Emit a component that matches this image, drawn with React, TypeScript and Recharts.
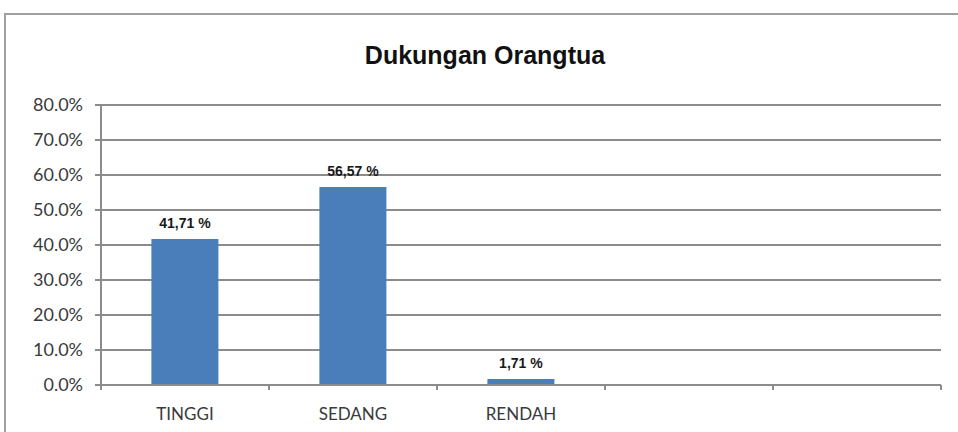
import { BarChart, Bar, XAxis, YAxis, CartesianGrid, LabelList } from "recharts";

const categories = ["TINGGI", "SEDANG", "RENDAH", "", ""];
const percentages: (number | null)[] = [41.71, 56.57, 1.71, null, null];
const yTicks = [0, 10, 20, 30, 40, 50, 60, 70, 80];

const data = categories.map((name, i) => ({ name, value: percentages[i] }));

const CHART_W = 958;
const CHART_H = 432;
const PLOT_LEFT = 101;
const PLOT_RIGHT = 941;
const BAND = (PLOT_RIGHT - PLOT_LEFT) / categories.length;
const GRID = "#8c8c8c";
const FONT = "Lato, 'Open Sans', sans-serif";

const formatPct = (v: number) => v.toFixed(2).replace(".", ",") + " %";

const XTick = (props: any) => {
  const { x, y, payload, index } = props;
  return (
    <g>
      {index === 0 && <line x1={x - BAND / 2} y1={y} x2={x - BAND / 2} y2={y + 5} stroke={GRID} strokeWidth={2} />}
      <line x1={x + BAND / 2} y1={y} x2={x + BAND / 2} y2={y + 5} stroke={GRID} strokeWidth={2} />
      <text x={x} y={y + 35} textAnchor="middle" fill="#3a3a3a" fontSize={17} fontFamily={FONT}>
        {payload.value}
      </text>
    </g>
  );
};

export default function App() {
  return (
    <div style={{ position: "fixed", left: 0, top: 0, width: CHART_W, height: CHART_H, background: "#fff", overflow: "hidden" }}>
      <div
        style={{
          position: "absolute",
          left: 4,
          top: 13,
          width: 1000,
          height: 500,
          border: "2px solid #a0a0a0",
          boxSizing: "border-box",
        }}
      />
      <div
        style={{
          position: "absolute",
          left: 0,
          width: 970,
          top: 41,
          textAlign: "center",
          fontFamily: "'Liberation Sans', Arial, sans-serif",
          fontWeight: "bold",
          fontSize: 25,
          color: "#111",
        }}
      >
        Dukungan Orangtua
      </div>
      <BarChart
        width={CHART_W}
        height={CHART_H}
        data={data}
        margin={{ top: 105, right: CHART_W - PLOT_RIGHT, bottom: 17, left: 0 }}
        barCategoryGap="30%"
        style={{ position: "absolute", left: 0, top: 0 }}
      >
        <CartesianGrid vertical={false} stroke={GRID} strokeWidth={2} />
        <XAxis
          dataKey="name"
          height={30}
          axisLine={{ stroke: GRID, strokeWidth: 2 }}
          tickLine={false}
          tickSize={0}
          tickMargin={0}
          tick={<XTick />}
          interval={0}
        />
        <YAxis
          width={PLOT_LEFT}
          domain={[0, 80]}
          ticks={yTicks}
          tickFormatter={(v: number) => v.toFixed(1) + "%"}
          axisLine={{ stroke: GRID, strokeWidth: 2 }}
          tickLine={{ stroke: GRID, strokeWidth: 2 }}
          tickSize={6}
          tickMargin={12}
          tick={{ fill: "#3a3a3a", fontSize: 18, fontFamily: FONT }}
        />
        <Bar dataKey="value" fill="#4a7ebb" isAnimationActive={false}>
          <LabelList
            dataKey="value"
            position="top"
            offset={11}
            formatter={(v: any) => (typeof v === "number" ? formatPct(v) : "")}
            style={{ fontSize: 14, fontWeight: "bold", fill: "#1a1a1a", fontFamily: "'Liberation Sans', Arial, sans-serif" }}
          />
        </Bar>
      </BarChart>
    </div>
  );
}
